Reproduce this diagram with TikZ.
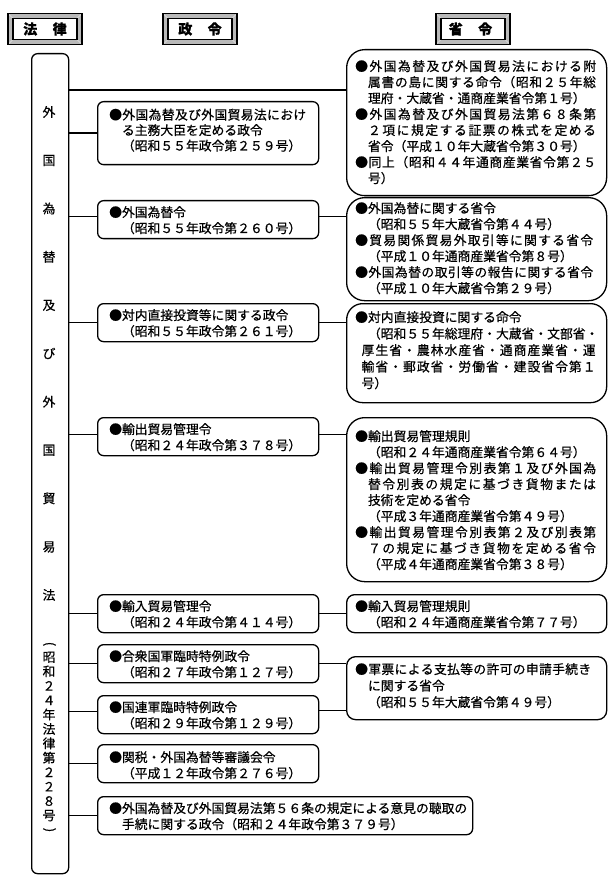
\documentclass[tikz,border=0pt]{standalone}
\usepackage{fontspec}
\setmainfont{Noto Sans CJK JP}[FakeBold=0.6]
\newcommand\jlA[1]{#1\jlB}
\newcommand\jlB[1]{\ifx#1\relax\else\hfil#1\expandafter\jlB\fi}
\newcommand\jl[2]{\leavevmode\hbox to #1{\jlA#2\relax}}
\newcommand\ind{\hspace*{1em}}
\begin{document}
\begin{tikzpicture}[x=1pt,y=-1pt,
  font=\fontsize{12.8}{16}\selectfont,
  hdr/.style={draw=black, line width=1.5pt, minimum width=74pt, minimum height=31pt, inner sep=0pt,
    font=\fontsize{14}{14}\selectfont\bfseries,
    path picture={
      \fill[gray!55] (path picture bounding box.south west) rectangle (path picture bounding box.north east);
      \draw[gray!20, line width=0.6pt] (path picture bounding box.south west) -- ++(5pt,5pt)
        (path picture bounding box.north west) -- ++(5pt,-5pt)
        (path picture bounding box.south east) -- ++(-5pt,5pt)
        (path picture bounding box.north east) -- ++(-5pt,-5pt);
      \filldraw[fill=white, draw=black, line width=1.1pt]
        ([shift={(5pt,5pt)}]path picture bounding box.south west) rectangle
        ([shift={(-5pt,-5pt)}]path picture bounding box.north east);
    }},
  lawbox/.style={draw, line width=1.3pt, rounded corners=6pt, minimum width=37pt, minimum height=820pt, anchor=north west, inner sep=0pt},
  dbox/.style={draw, line width=1.3pt, rounded corners=6pt, minimum width=221pt, minimum height=38pt, anchor=north west, inner sep=0pt},
  mbox/.style={draw, line width=1.3pt, rounded corners=18pt, minimum width=260pt, anchor=north west, inner sep=0pt},
  txt/.style={anchor=base west, inner sep=0pt, text width=262pt, align=left},
  lawtxt/.style={anchor=base, inner sep=0pt, text width=16pt, align=center},
  vparen/.style={rotate=-90, inner sep=0pt, font=\fontsize{12.8}{12.8}\selectfont},
  conn/.style={line width=1.3pt}
]
\path[use as bounding box] (0,0) rectangle (613,890);

% headers
\node[hdr] (hlaw) at (45,29) {法\hspace{1.1em}律};
\node[hdr] (hsei) at (200,29) {政\hspace{1.1em}令};
\node[hdr] (hsho) at (473,29) {\hspace*{-5pt}省\hspace{1.1em}令};

% law column
\node[lawbox] (law) at (31,53) {};
\node[lawtxt, font=\fontsize{12.8}{48.3}\selectfont] (lawA) at (49,116.8)
  {外\\国\\為\\替\\及\\び\\外\\国\\貿\\易\\法};
\node[vparen] (lawLP) at (49.5,644) {(};
\node[lawtxt, font=\fontsize{12.8}{14.4}\selectfont] (lawB) at (49,661.8)
  {昭\\和\\２\\４\\年\\法\\律\\第\\２\\２\\８\\号};
\node[vparen] (lawRP) at (49.5,830) {)};

% decree boxes
\node[dbox, minimum height=63pt] (d1) at (97,101) {};
\node[dbox] (d2) at (97,200) {};
\node[dbox] (d3) at (97,303) {};
\node[dbox] (d4) at (97,417) {};
\node[dbox] (d5) at (97,594) {};
\node[dbox] (d6) at (97,644) {};
\node[dbox] (d7) at (97,695) {};
\node[dbox] (d8) at (97,744) {};
\node[dbox, minimum width=375pt] (d9) at (97,796) {};

\node[txt, font=\fontsize{12.8}{15.5}\selectfont] (t1) at (109,119.5)
  {\jl{197pt}{●外国為替及び外国貿易法におけ}\\\ind る主務大臣を定める政令\\\ind（昭和５５年政令第２５９号）};
\node[txt] (t2) at (109,217) {●外国為替令\\\ind（昭和５５年政令第２６０号）};
\node[txt] (t3) at (109,320) {●対内直接投資等に関する政令\\\ind（昭和５５年政令第２６１号）};
\node[txt] (t4) at (109,434) {●輸出貿易管理令\\\ind（昭和２４年政令第３７８号）};
\node[txt] (t5) at (109,611) {●輸入貿易管理令\\\ind（昭和２４年政令第４１４号）};
\node[txt] (t6) at (109,661) {●合衆国軍臨時特例政令\\\ind（昭和２７年政令第１２７号）};
\node[txt] (t7) at (109,712) {●国連軍臨時特例政令\\\ind（昭和２９年政令第１２９号）};
\node[txt] (t8) at (109,762) {●関税・外国為替等審議会令\\\ind（平成１２年政令第２７６号）};
\node[txt, text width=380pt] (t9) at (109,813)
  {●外国為替及び外国貿易法第５６条の規定による意見の聴取の\\\ind 手続に関する政令（昭和２４年政令第３７９号）};

% ministerial boxes
\node[mbox, minimum height=146pt] (m1) at (346,49) {};
\node[mbox, minimum height=103pt] (m2) at (346,197) {};
\node[mbox, minimum height=99pt, rounded corners=16pt] (m3) at (346,303) {};
\node[mbox, minimum height=164pt] (m4) at (346,417) {};
\node[mbox, minimum height=38pt, rounded corners=8pt] (m5) at (346,594) {};
\node[mbox, minimum height=63pt, rounded corners=9pt] (m6) at (346,656) {};

\node[txt] (u1) at (355,71)
  {\jl{241pt}{●外国為替及び外国貿易法における附}\\
   \ind\jl{228pt}{属書の島に関する命令（昭和２５年総}\\
   \ind 理府・大蔵省・通商産業省令第１号）\\
   \jl{241pt}{●外国為替及び外国貿易法第６８条第}\\
   \ind\jl{228pt}{２項に規定する証票の株式を定める}\\
   \ind 省令（平成１０年大蔵省令第３０号）\\
   \jl{241pt}{●同上（昭和４４年通商産業省令第２５}\\
   \ind 号）};
\node[txt] (u2) at (355,213)
  {●外国為替に関する省令\\
   \ind（昭和５５年大蔵省令第４４号）\\
   \jl{238pt}{●貿易関係貿易外取引等に関する省令}\\
   \ind（平成１０年通商産業省令第８号）\\
   \jl{238pt}{●外国為替の取引等の報告に関する省令}\\
   \ind（平成１０年大蔵省令第２９号）};
\node[txt, font=\fontsize{12.8}{16.5}\selectfont] (u3) at (355,322)
  {●対内直接投資に関する命令\\
   \ind（昭和５５年総理府・大蔵省・文部省・\\
   \hspace*{0.5em}\jl{234pt}{厚生省・農林水産省・通商産業省・運}\\
   \hspace*{0.5em}\jl{234pt}{輸省・郵政省・労働省・建設省令第１}\\
   \hspace*{0.5em}号）};
\node[txt] (u4) at (355,441)
  {●輸出貿易管理規則\\
   \ind（昭和２４年通商産業省令第６４号）\\
   \jl{241pt}{●輸出貿易管理令別表第１及び外国為}\\
   \ind\jl{228pt}{替令別表の規定に基づき貨物または}\\
   \ind 技術を定める省令\\
   \ind（平成３年通商産業省令第４９号）\\
   \jl{241pt}{●輸出貿易管理令別表第２及び別表第}\\
   \ind\jl{228pt}{７の規定に基づき貨物を定める省令}\\
   \ind（平成４年通商産業省令第３８号）};
\node[txt] (u5) at (355,611)
  {●輸入貿易管理規則\\\ind（昭和２４年通商産業省令第７７号）};
\node[txt, font=\fontsize{12.8}{16.5}\selectfont] (u6) at (355,674)
  {\jl{236pt}{●軍票による支払等の許可の申請手続き}\\\ind に関する省令\\\ind（昭和５５年大蔵省令第４９号）};

% connectors
\coordinate (j0) at (0,90);
\draw[conn] (law.east |- j0) -- (m1.west |- j0);
\draw[conn] (d1.west -| law.east) -- (d1.west);
\draw[conn] ([yshift=3pt]d2.west -| law.east) -- ([yshift=3pt]d2.west);
\draw[conn] (d3.west -| law.east) -- (d3.west);
\draw[conn] ([yshift=2pt]d4.west -| law.east) -- ([yshift=2pt]d4.west);
\draw[conn] (d5.west -| law.east) -- (d5.west);
\draw[conn] (d6.west -| law.east) -- (d6.west);
\draw[conn] ([yshift=3pt]d7.west -| law.east) -- ([yshift=3pt]d7.west);
\draw[conn] (d8.west -| law.east) -- (d8.west);
\draw[conn] (d9.west -| law.east) -- (d9.west);
\draw[conn] ([yshift=3pt]d2.east) -- ([yshift=3pt]d2.east -| m2.west);
\draw[conn] (d3.east) -- (d3.east -| m3.west);
\draw[conn] ([yshift=2pt]d4.east) -- ([yshift=2pt]d4.east -| m4.west);
\draw[conn] (d5.east) -- (d5.east -| m5.west);
\draw[conn] (d6.east) -- (d6.east -| m6.west);
\draw[conn] ([yshift=4pt]d7.east) -- ([yshift=4pt]d7.east -| m6.west);
\end{tikzpicture}
\end{document}
